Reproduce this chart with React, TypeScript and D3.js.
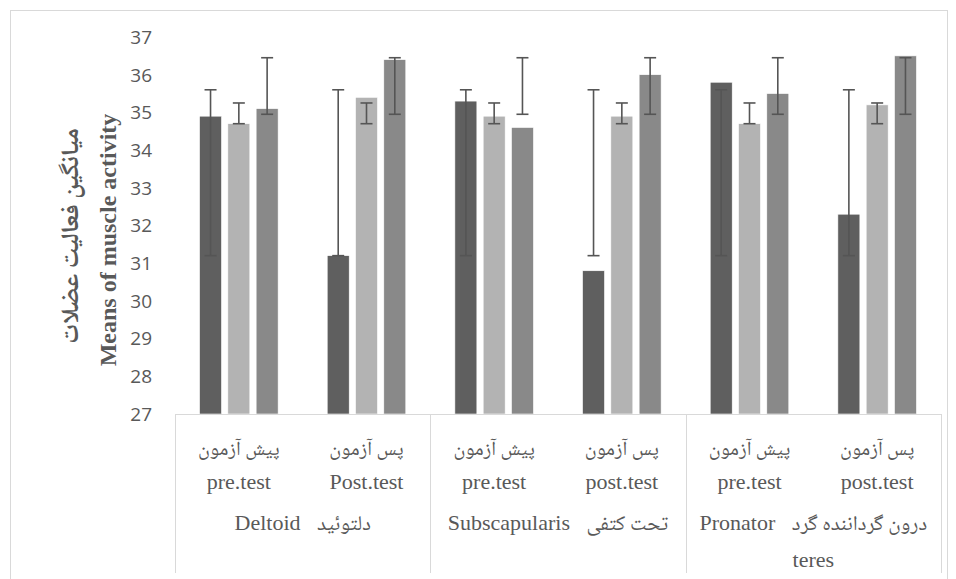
import React from 'react';
import * as d3 from 'd3';

const categories = ['c1', 'c2', 'c3', 'c4', 'c5', 'c6'];
const subLabelsFa = ['پیش آزمون', 'پس آزمون', 'پیش آزمون', 'پس آزمون', 'پیش آزمون', 'پس آزمون'];
const subLabelsEn = ['pre.test', 'Post.test', 'pre.test', 'post.test', 'pre.test', 'post.test'];
const groupEn = ['Deltoid', 'Subscapularis', 'Pronator'];
const groupFa = ['دلتوئید', 'تحت کتفی', 'درون گرداننده گرد'];
const groupEnLine2 = ['', '', 'teres'];

const series1 = [34.9, 31.2, 35.3, 30.8, 35.8, 32.3];
const series2 = [34.7, 35.4, 34.9, 34.9, 34.7, 35.2];
const series3 = [35.1, 36.4, 34.6, 36.0, 35.5, 36.5];
const errLow = [31.2, 34.7, 34.95];
const errHigh = [35.6, 35.25, 36.45];
const yTicks = [27, 28, 29, 30, 31, 32, 33, 34, 35, 36, 37];

const colors = ['#5f5f5f', '#b3b3b3', '#898989'];
const errColor = '#555555';

export default function App() {
  const W = 956, H = 579;
  const x0 = d3.scaleBand<string>().domain(categories).range([175, 941]);
  const x1 = d3.scaleBand<number>().domain([0, 1, 2]).range([0, x0.bandwidth()]).paddingInner(0.2226).paddingOuter(0.867);
  const y = d3.scaleLinear().domain([27, 37]).range([414, 37]);
  const allSeries = [series1, series2, series3];
  const groupW = x0.bandwidth() * 2;
  const serif = '"Liberation Serif", "Times New Roman", serif';
  const fa = '"Noto Naskh Arabic", "Noto Sans Arabic", "DejaVu Sans", serif';
  const sans = '"Open Sans", "Noto Sans", sans-serif';
  const txt = '#595959';

  return (
    <div style={{ position: 'absolute', left: 0, top: 0 }}>
      <svg width={W} height={H} style={{ display: 'block', background: '#fff' }}>
        <rect x={10.5} y={10.5} width={937} height={620} fill="none" stroke="#d9d9d9" strokeWidth={1} />
        {categories.map((c, i) => (
          <g key={c} transform={`translate(${x0(c)},0)`}>
            {allSeries.map((s, k) => (
              <rect key={k} x={x1(k)} y={y(s[i])} width={x1.bandwidth()} height={y(27) - y(s[i])}
                fill={colors[k]} stroke="#ffffff" strokeWidth={0.6} />
            ))}
            {allSeries.map((s, k) => {
              const cx = (x1(k) as number) + x1.bandwidth() / 2;
              return (
                <g key={'e' + k} stroke={errColor} strokeWidth={1.6}>
                  <line x1={cx} x2={cx} y1={y(errLow[k])} y2={y(errHigh[k])} />
                  <line x1={cx - 6} x2={cx + 6} y1={y(errLow[k])} y2={y(errLow[k])} />
                  <line x1={cx - 6} x2={cx + 6} y1={y(errHigh[k])} y2={y(errHigh[k])} />
                </g>
              );
            })}
          </g>
        ))}
        {yTicks.map(t => (
          <text key={t} x={152} y={y(t)} dy="0.36em" textAnchor="end" fontFamily={sans} fontSize={19} fill={txt}>{t}</text>
        ))}
        <g transform="translate(108,240) rotate(-90)">
          <text textAnchor="middle" dy="0.33em" fontFamily={serif} fontWeight="bold" fontSize={24} fill={txt}>Means of muscle activity</text>
        </g>
        <g transform="translate(70,236) rotate(-90)">
          <text textAnchor="middle" dy="0.3em" fontFamily={fa} fontWeight="bold" fontSize={25} fill={txt}>میانگین فعالیت عضلات</text>
        </g>
        <line x1={175} x2={941} y1={414.5} y2={414.5} stroke="#d9d9d9" strokeWidth={1} />
        {[0, 1, 2, 3].map(g => {
          const gx = Math.round(175 + g * groupW) + 0.5;
          return <line key={g} x1={gx} x2={gx} y1={414} y2={573} stroke="#d9d9d9" strokeWidth={1} />;
        })}
        {categories.map((c, i) => {
          const cx = (x0(c) as number) + x0.bandwidth() / 2;
          return (
            <g key={'l' + c} fill={txt} textAnchor="middle">
              <text x={cx} y={449} dy="0.3em" fontFamily={fa} fontSize={20}>{subLabelsFa[i]}</text>
              <text x={cx} y={481} dy="0.35em" fontFamily={serif} fontSize={22}>{subLabelsEn[i]}</text>
            </g>
          );
        })}
        {groupEn.map((g, j) => {
          const cx = 175 + groupW * j + groupW / 2;
          return (
            <g key={'g' + j} fill={txt}>
              <text x={cx} y={524} dy="0.35em" textAnchor="middle" direction="ltr">
                <tspan fontFamily={serif} fontSize={22}>{g + '\u00A0\u00A0\u00A0'}</tspan>
                <tspan fontFamily={fa} fontSize={21}>{groupFa[j]}</tspan>
              </text>
              {groupEnLine2[j] && <text x={cx} y={559} dy="0.35em" textAnchor="middle" fontFamily={serif} fontSize={22}>{groupEnLine2[j]}</text>}
            </g>
          );
        })}
      </svg>
    </div>
  );
}
